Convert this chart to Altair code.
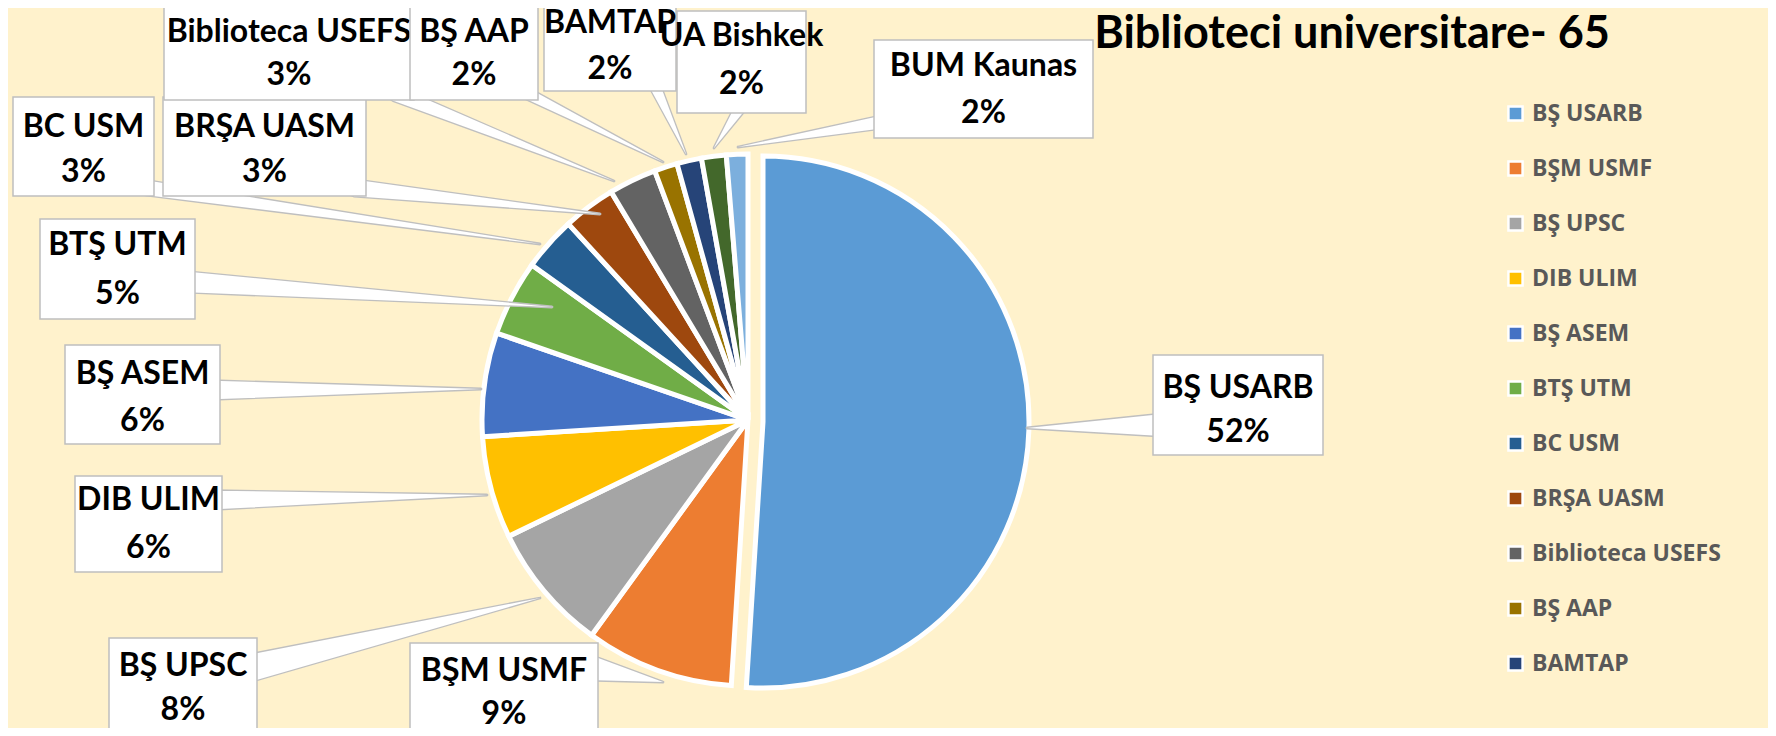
import math
import altair as alt
import pandas as pd

# ---------------- data ----------------
names = ["BŞ USARB", "BŞM USMF", "BŞ UPSC", "DIB ULIM", "BŞ ASEM", "BTŞ UTM",
         "BC USM", "BRŞA UASM", "Biblioteca USEFS", "BŞ AAP", "BAMTAP",
         "UA Bishkek", "BUM Kaunas"]
values = [51.0, 9.0, 7.8, 6.2, 6.3, 4.6, 3.3, 3.2, 2.9, 1.4, 1.5, 1.5, 1.3]
pct_labels = ["52%", "9%", "8%", "6%", "6%", "5%", "3%", "3%", "3%", "2%",
              "2%", "2%", "2%"]
colors = ["#5B9BD5", "#ED7D31", "#A5A5A5", "#FFC000", "#4472C4", "#70AD47",
          "#255E91", "#9E480E", "#636363", "#997300", "#264478", "#43682B",
          "#7CAFDD"]
legend_shown = names[:11]
title_text = "Biblioteci universitare- 65"

# ---------------- layout (window pixels) ----------------
M = 8  # page margin
box_x1 = [1153, 410, 109, 75, 65, 40, 13, 163, 164, 410, 544, 677, 874]
box_x2 = [1323, 598, 257, 222, 220, 195, 154, 366, 414, 538, 676, 806, 1093]
box_y1 = [355, 643, 638, 476, 345, 219, 97, 97, 7, 6, -6, 11, 40]
box_y2 = [455, 750, 750, 572, 444, 319, 196, 196, 100, 100, 91, 113, 138]
txt_y1 = [388, 671, 666, 500, 374, 245, 127, 127, 32, 32, 23, 36, 66]
txt_y2 = [432, 714, 710, 548, 421, 294, 172, 172, 75, 75, 69, 84, 113]
anc_x = [1027, 663, 540, 487, 481, 552, 540, 600, 614, 663, 686, 714, 738]
anc_y = [428, 682, 598, 495, 389, 307, 244, 214, 181, 162, 154, 148, 147]
base_x = [1165, 590, 250, 215, 213, 188, 148, 355, 396, 528, 655, 740, 882]
base_y = [425, 668, 668, 500, 390, 282, 188, 188, 94, 94, 86, 108, 122]
base_w = [24, 26, 28, 20, 20, 22, 16, 18, 16, 12, 12, 12, 14]
zlayer = [0, 0, 0, 0, 0, 0, 0, 0, 1, 2, 1, 2, 0]

cx, cy = 748 - M, 420 - M
ex_x, ex_y = 763 - M, 422 - M
R = 266

pie_df = pd.DataFrame({"name": names, "value": values,
                       "order": list(range(len(names)))})

lab_df = pd.DataFrame({
    "name": names, "pct": pct_labels,
    "x1": [v - M for v in box_x1], "x2": [v - M for v in box_x2],
    "y1": [v - M for v in box_y1], "y2": [v - M for v in box_y2],
    "ty1": [v - M for v in txt_y1], "ty2": [v - M for v in txt_y2],
    "tx": [(a + b) / 2 - M for a, b in zip(box_x1, box_x2)],
    "z": zlayer,
})

wedge_rows = []
for i, n in enumerate(names):
    wedge_rows.append({"name": n, "seq": 0, "x": base_x[i] - M,
                       "y": base_y[i] - M, "w": base_w[i]})
    wedge_rows.append({"name": n, "seq": 1, "x": anc_x[i] - M,
                       "y": anc_y[i] - M, "w": 1.5})
wedge_df = pd.DataFrame(wedge_rows)

W, H = 1760, 720
xs = alt.Scale(domain=[0, W], nice=False, zero=False)
ys = alt.Scale(domain=[0, H], nice=False, zero=False, reverse=True)
theta_scale = alt.Scale(domain=[0, 1], range=[0, 2 * math.pi])

color_enc = alt.Color(
    "name:N",
    scale=alt.Scale(domain=names, range=colors),
    legend=alt.Legend(
        orient="none", legendX=1496, legendY=94, title=None,
        values=legend_shown, symbolType="square", symbolSize=200,
        symbolStrokeColor="white", symbolStrokeWidth=2.5,
        labelFont="Open Sans", labelFontSize=23, labelFontWeight="bold",
        labelColor="#595959", rowPadding=30, labelOffset=5, padding=0,
        labelLimit=400,
    ),
)

pie_base = (
    alt.Chart(pie_df)
    .transform_joinaggregate(total="sum(value)")
    .transform_window(cum="sum(value)", sort=[alt.SortField("order")],
                      frame=[None, 0])
    .transform_calculate(t0="(datum.cum - datum.value) / datum.total",
                         t1="datum.cum / datum.total")
)

pie_rest = pie_base.transform_filter("datum.order > 0").mark_arc(
    outerRadius=R, stroke="white", strokeWidth=5
).encode(
    theta=alt.Theta("t0:Q", scale=theta_scale),
    theta2="t1:Q",
    color=color_enc,
    x=alt.value(cx), y=alt.value(cy),
)

pie_main = pie_base.transform_filter("datum.order == 0").mark_arc(
    outerRadius=R, stroke="white", strokeWidth=5
).encode(
    theta=alt.Theta("t0:Q", scale=theta_scale),
    theta2="t1:Q",
    color=color_enc,
    x=alt.value(ex_x), y=alt.value(ex_y),
)

wedges = alt.Chart(wedge_df).mark_trail(
    fill="white", stroke="#BFBFBF", strokeWidth=1.3
).encode(
    x=alt.X("x:Q", scale=xs, axis=None),
    y=alt.Y("y:Q", scale=ys, axis=None),
    size=alt.Size("w:Q", scale=None, legend=None),
    detail="name:N",
    order="seq:Q",
)

layers = [pie_rest, pie_main, wedges]
for z in [0, 1, 2]:
    sub = alt.Chart(lab_df).transform_filter(f"datum.z == {z}")
    boxes = sub.mark_rect(fill="white", stroke="#BFBFBF", strokeWidth=1.5).encode(
        x=alt.X("x1:Q", scale=xs, axis=None), x2="x2:Q",
        y=alt.Y("y1:Q", scale=ys, axis=None), y2="y2:Q",
    )
    t1 = sub.mark_text(font="Lato", fontWeight="bold", fontSize=32,
                       color="black", baseline="middle").encode(
        x=alt.X("tx:Q", scale=xs, axis=None),
        y=alt.Y("ty1:Q", scale=ys, axis=None),
        text="name:N",
    )
    t2 = sub.mark_text(font="Lato", fontWeight="bold", fontSize=32,
                       color="black", baseline="middle").encode(
        x=alt.X("tx:Q", scale=xs, axis=None),
        y=alt.Y("ty2:Q", scale=ys, axis=None),
        text="pct:N",
    )
    layers += [boxes, t1, t2]

title = alt.Chart(pd.DataFrame({"t": [title_text]})).mark_text(
    font="Lato", fontWeight="bold", fontSize=45, color="black",
    baseline="middle", align="center"
).encode(x=alt.value(1352 - M), y=alt.value(34 - M), text="t:N")
layers.append(title)

chart = alt.layer(*layers).properties(
    width=W, height=H, padding=0,
    autosize=alt.AutoSizeParams(type="none"),
    background="#FFF2CC",
).configure_view(stroke=None)

chart.save("out.html", embed_options={"renderer": "svg", "actions": False})
